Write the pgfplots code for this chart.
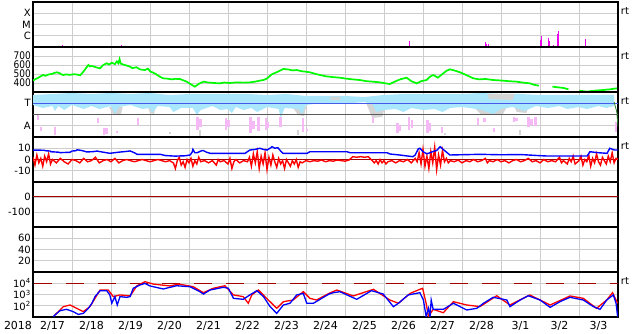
\documentclass[border=0pt]{standalone}
\usepackage{pgfplots}
\pgfplotsset{compat=1.18}
\usepackage{fontspec}
\setmainfont{DejaVu Sans}
\definecolor{gridc}{RGB}{205,205,205}
\definecolor{mag}{RGB}{240,0,240}
\definecolor{grn}{RGB}{0,250,0}
\definecolor{cyanc}{RGB}{170,230,252}
\definecolor{pinkc}{RGB}{245,185,245}
\definecolor{grayc}{RGB}{212,212,212}
\definecolor{tblue}{RGB}{70,90,235}
\definecolor{midgray}{RGB}{90,90,90}
\definecolor{dred}{RGB}{165,0,0}
\definecolor{dgreen}{RGB}{40,130,40}
\pgfplotsset{panel/.style={width=585pt, height=45pt, scale only axis, anchor=south west,
  xmin=0, xmax=15, xtick={1,...,14}, xticklabels={}, xmajorgrids, ymajorgrids,
  grid style={draw=gridc, line width=0.8pt}, axis line style={line width=1.2pt},
  major tick length=0pt, minor tick length=0pt, clip mode=individual,
  yticklabel style={font=\fontsize{10}{10}\selectfont, inner sep=0pt, xshift=-2pt},
  /pgf/number format/assume math mode=true, unbounded coords=jump}}
\begin{document}
\begin{tikzpicture}
\path[use as bounding box] (0,0) rectangle (634pt,334pt);
% panel 1
\begin{axis}[panel, at={(33pt,287pt)}, ymin=0, ymax=45, ytick={11.25,22.5,33.75}, yticklabels={C,M,X}]
\addplot[ycomb, mag, line width=1pt, no marks] coordinates {
(0.75,1.5) (2.27,1.5) (9.65,6) (11.61,4.7) (11.64,3) (11.68,3) (12.92,1.3)
(13.00,7) (13.03,10.7) (13.05,7.3) (13.21,9) (13.24,5.7) (13.34,2.3)
(13.44,13.3) (13.48,15.7) (14.16,8.3)};
\end{axis}
% panel 2
\begin{axis}[panel, at={(33pt,242pt)}, ymin=300, ymax=800, ytick={400,500,600,700},
  yticklabel={\scalebox{0.9}[1.05]{\pgfmathprintnumber{\tick}}}]
\addplot[grn, line width=1.7pt, no marks] coordinates {
(0.00,426) (0.05,440) (0.12,455) (0.18,470) (0.22,480) (0.26,489) (0.32,480) (0.40,495) (0.48,500)
(0.55,512) (0.61,519) (0.68,510) (0.73,495) (0.78,489) (0.85,496) (0.95,490) (1.05,498)
(1.15,492) (1.21,485) (1.28,520) (1.35,560) (1.42,600) (1.46,585) (1.50,590) (1.58,580) (1.65,570)
(1.72,563) (1.80,600) (1.89,619) (1.95,605) (2.02,625) (2.10,610) (2.15,640) (2.19,619)
(2.22,665) (2.25,615) (2.35,600) (2.43,590) (2.49,581) (2.55,565) (2.65,575) (2.75,550)
(2.87,544) (2.95,560) (3.00,530) (3.08,515) (3.15,500) (3.25,470) (3.34,452) (3.45,448)
(3.55,440) (3.65,446) (3.77,444) (3.85,430) (3.94,415) (4.05,385) (4.15,359) (4.25,390)
(4.37,415) (4.50,405) (4.65,400) (4.79,396) (4.90,405) (5.05,400) (5.22,407) (5.40,404)
(5.56,407) (5.70,415) (5.80,425) (5.91,433) (6.00,450) (6.12,496) (6.25,520) (6.42,556)
(6.55,550) (6.65,540) (6.76,544) (6.90,530) (7.00,525) (7.10,519) (7.25,500) (7.36,489)
(7.50,475) (7.70,465) (7.87,459) (8.00,450) (8.20,440) (8.38,433) (8.55,420) (8.70,415)
(8.90,407) (9.05,395) (9.15,389) (9.25,410) (9.37,433) (9.45,445) (9.58,459) (9.70,420)
(9.84,396) (9.95,420) (10.09,433) (10.18,470) (10.26,489) (10.32,475) (10.38,459) (10.50,500)
(10.60,535) (10.69,552) (10.80,540) (10.95,519) (11.10,490) (11.29,452) (11.45,440) (11.60,445)
(11.80,433) (12.00,428) (12.20,420) (12.40,415) (12.55,405) (12.74,396) (12.85,380) (12.97,370)
(13.10,nan)
(13.32,359) (13.50,350) (13.60,345) (13.73,330)
(13.85,nan)
(14.01,315) (14.20,304) (14.40,315) (14.62,322) (14.80,330) (14.97,341)};
\end{axis}
% panel 3
\begin{axis}[panel, at={(33pt,197pt)}, ymin=0, ymax=45, ytick={11.25,33.75}, yticklabels={A,T}]
\addplot[fill=grayc, draw=none] coordinates {(1.95,30) (2.30,30) (2.25,22) (2.05,23)} -- cycle;
\addplot[fill=grayc, draw=none] coordinates {(2.95,30) (3.15,30) (3.10,23) (3.00,24)} -- cycle;
\addplot[fill=grayc, draw=none] coordinates {(6.65,30) (7.00,30) (6.95,21) (6.80,22)} -- cycle;
\addplot[fill=grayc, draw=none] coordinates {(8.55,33) (9.05,33) (8.95,20) (8.70,19)} -- cycle;
\addplot[fill=grayc, draw=none] coordinates {(11.30,30) (12.15,30) (12.05,23) (11.50,22)} -- cycle;
\addplot[fill=grayc, draw=none] coordinates {(12.35,30) (12.70,30) (12.65,24) (12.40,25)} -- cycle;
\addplot[fill=cyanc, draw=none] coordinates {
(0,42) (0.5,43) (1,44) (1.5,43) (2,44) (2.5,43) (3,44) (3.5,42) (4,43) (4.5,43) (5,43)
(5.5,43) (6,42) (6.5,43) (7,41) (7.5,41) (8,41) (8.5,40) (9,42) (9.5,43) (10,43) (10.5,43)
(11,43) (11.5,44) (12,43) (12.5,43) (13,42) (13.5,42) (14,42) (14.5,42) (14.9,42)
(14.9,31) (14.7,29) (14.5,31) (14.2,28) (14.0,30) (13.7,28) (13.5,31) (13.2,29) (12.9,31) (12.6,26) (12.3,30) (12.0,28)
(11.8,23) (11.5,27) (11.2,29) (11.0,30) (10.7,29) (10.5,25) (10.3,28) (10.0,27) (9.7,29) (9.5,25)
(9.3,28) (9.0,27) (8.8,25) (8.7,33) (8.5,35) (8.2,34) (8.0,33) (7.5,34) (7.2,33) (7.0,32) (6.9,23) (6.8,28)
(6.45,29) (6.35,19) (6.3,28) (6.0,30) (5.75,25) (5.6,29) (5.4,27) (5.2,30) (5.1,24) (5.0,28)
(4.8,27) (4.6,31) (4.3,27) (4.2,22) (4.1,29) (3.8,29) (3.6,25) (3.5,30) (3.2,31) (3.05,24) (3.0,29)
(2.8,28) (2.5,32) (2.2,30) (2.1,23) (2.0,31) (1.7,28) (1.5,31) (1.3,28) (1.0,32) (0.8,27) (0.65,31) (0.56,26)
(0.5,31) (0.25,29) (0,32)} -- cycle;
\addplot[fill=grayc, draw=none] coordinates {(11.65,43) (12.35,43) (12.30,37) (11.70,38)} -- cycle;
\addplot[fill=grayc, draw=none] coordinates {(7.60,40) (7.90,40) (7.85,37) (7.65,37)} -- cycle;
\addplot[grayc, line width=2pt, no marks] coordinates {
(3.51,5) (3.51,3) (3.51,nan) (6.80,7) (6.80,2) (6.80,nan) (10.56,4) (10.56,2) (10.56,nan)
(12.48,7) (12.48,2) (12.48,nan) (4.27,7) (4.27,1)};
\addplot[pinkc, line width=2.6pt, no marks] coordinates {
(0.13,22) (0.13,17) (0.13,nan) (0.20,10) (0.20,6) (0.20,nan) (0.56,10) (0.56,2) (0.56,nan)
(1.67,19) (1.67,14) (1.67,nan) (1.82,9) (1.82,2) (1.82,nan) (1.88,9) (1.88,3) (1.88,nan)
(2.15,6) (2.15,4) (2.15,nan) (2.69,19) (2.69,12) (2.69,nan) (4.22,20) (4.22,7) (4.22,nan)
(4.30,18) (4.30,10) (4.30,nan) (4.95,19) (4.95,7) (4.95,nan) (5.02,17) (5.02,10) (5.02,nan)
(5.58,20) (5.58,4) (5.58,nan) (5.66,16) (5.66,8) (5.66,nan) (5.78,20) (5.78,6) (5.78,nan)
(5.97,19) (5.97,7) (5.97,nan) (6.02,15) (6.02,9) (6.02,nan) (6.35,20) (6.35,10) (6.35,nan)
(6.92,19) (6.92,5) (6.92,nan) (7.03,8) (7.03,6) (7.03,nan) (8.72,20) (8.72,14) (8.72,nan)
(9.35,14) (9.35,4) (9.35,nan) (9.40,12) (9.40,6) (9.40,nan) (9.64,20) (9.64,7) (9.64,nan)
(9.72,17) (9.72,9) (9.72,nan) (10.12,17) (10.12,4) (10.12,nan) (10.17,14) (10.17,6) (10.17,nan)
(10.49,10) (10.49,4) (10.49,nan) (11.41,19) (11.41,12) (11.41,nan) (11.58,19) (11.58,15) (11.58,nan)
(11.82,9) (11.82,5) (11.82,nan) (12.33,20) (12.33,15) (12.33,nan) (12.40,19) (12.40,16) (12.40,nan)
(12.70,20) (12.70,10) (12.70,nan) (12.78,18) (12.78,12) (12.78,nan) (12.88,20) (12.88,11) (12.88,nan)
(14.95,15) (14.95,5)};
\addplot[tblue, line width=1pt, no marks] coordinates {(0,33.75) (15,33.75)};
\addplot[midgray, line width=1pt, no marks] coordinates {(0,22.5) (15,22.5)};
\addplot[dgreen, line width=0.8pt, no marks] coordinates {(14.90,35) (14.97,25) (15,10)};
\end{axis}
% panel 4
\begin{axis}[panel, at={(33pt,152pt)}, ymin=-20, ymax=20, ytick={-10,0,10}]
\addplot[dred, line width=1pt, no marks] coordinates {(0,0) (15,0)};
\addplot[red, line width=1.4pt, no marks] coordinates {
(0.0,2) (0.05,-5) (0.1,4) (0.15,-3) (0.2,1) (0.25,-6) (0.3,3) (0.35,-2) (0.4,5) (0.45,-4)
(0.5,0) (0.6,-3) (0.7,1) (0.8,-2) (0.9,-4) (1.0,0) (1.1,-1) (1.2,-3) (1.3,1) (1.4,-2)
(1.5,-1) (1.6,2) (1.7,-3) (1.8,-1) (1.9,0) (2.0,-2) (2.1,1) (2.2,-3) (2.3,-1) (2.4,0)
(2.5,-1) (2.6,-2) (2.7,-1) (2.8,0) (2.9,-1) (3.0,-2) (3.1,-1) (3.2,0) (3.3,-1) (3.4,-2)
(3.5,-1) (3.6,-3) (3.65,-8) (3.7,-1) (3.75,2) (3.8,-5) (3.85,-2) (3.9,-7) (3.95,0) (4.0,-3)
(4.05,1) (4.1,-6) (4.15,-1) (4.2,-4) (4.25,2) (4.3,-2) (4.4,-1) (4.5,-3) (4.6,-1) (4.7,-5)
(4.75,0) (4.8,-2) (4.9,-1) (5.0,-4) (5.05,1) (5.1,-8) (5.15,-2) (5.2,0) (5.3,-3) (5.4,-1)
(5.5,-2) (5.55,2) (5.6,-6) (5.65,5) (5.7,-3) (5.75,7) (5.8,-8) (5.85,3) (5.9,-4) (5.95,6)
(6.0,-9) (6.05,2) (6.1,-5) (6.15,4) (6.2,-2) (6.25,-7) (6.3,1) (6.35,-4) (6.4,-1) (6.45,-8)
(6.5,0) (6.55,-3) (6.6,-6) (6.65,-1) (6.7,-4) (6.75,0) (6.8,-7) (6.85,-2) (6.9,-3) (7.0,-1)
(7.1,-2) (7.2,-1) (7.3,-1.5) (7.4,-0.5) (7.5,-2) (7.6,-1) (7.7,-1.5) (7.8,-0.5) (7.9,-1) (8.0,-1.5)
(8.1,-0.5) (8.2,2.5) (8.3,2) (8.4,2.5) (8.5,2) (8.6,2.5) (8.7,-1) (8.75,-3) (8.8,-1) (8.85,-4)
(8.9,0) (8.95,-3) (9.0,-1) (9.05,-4) (9.1,-2) (9.2,-1) (9.3,-3) (9.4,-1) (9.5,-2) (9.6,0)
(9.7,-3) (9.8,1) (9.85,-2) (9.9,6) (9.95,-4) (10.0,9) (10.05,-6) (10.1,3) (10.15,-8) (10.2,7)
(10.25,-3) (10.3,11) (10.35,-9) (10.4,4) (10.45,-5) (10.5,8) (10.55,-2) (10.6,1) (10.65,-3) (10.7,-1)
(10.8,-2) (10.9,-0.5) (11.0,-3) (11.1,-1) (11.2,-2) (11.3,0) (11.4,-2) (11.5,-1) (11.6,1) (11.65,-3)
(11.7,-1) (11.8,-2) (11.9,0) (12.0,-2) (12.1,-1) (12.2,-3) (12.3,-1) (12.4,0) (12.5,-2) (12.6,-1)
(12.7,1) (12.8,-2) (12.9,-1) (13.0,-3) (13.1,0) (13.2,-2) (13.3,-1) (13.4,-2) (13.5,2) (13.55,-3)
(13.6,-1) (13.7,-4) (13.75,1) (13.8,-2) (13.85,3) (13.9,-4) (14.0,-1) (14.05,3) (14.1,-5) (14.15,0)
(14.2,-2) (14.25,4) (14.3,-6) (14.35,1) (14.4,-3) (14.45,5) (14.5,-2) (14.55,-5) (14.6,2) (14.65,-1)
(14.7,-4) (14.75,3) (14.8,-2) (14.85,6) (14.9,-3) (14.95,1) (15.0,0)};
\addplot[blue, line width=1.4pt, no marks] coordinates {
(0.00,8.4) (0.30,8.2) (0.31,7.8) (0.44,7.5) (0.45,6.9) (0.65,6.5) (0.69,6.1) (0.95,6.4) (1.00,7.5)
(1.10,7.8) (1.13,8.6) (1.25,8.0) (1.38,6.7) (1.55,7.0) (1.64,7.5) (1.80,6.5) (1.97,5.5) (2.20,6.5)
(2.40,7.2) (2.49,7.6) (2.60,6.0) (2.67,4.6) (3.26,4.6) (3.40,3.5) (3.64,3.0) (3.90,3.3) (4.03,4.0)
(4.08,6.5) (4.10,9.0) (4.15,6.0) (4.21,6.0) (4.30,7.5) (4.36,8.0) (4.45,6.5) (4.54,5.5) (5.44,5.5)
(5.50,7.0) (5.56,8.4) (5.70,9.0) (5.82,10.0) (5.90,9.0) (6.00,8.4) (6.10,10.5) (6.13,11.4) (6.20,10.0)
(6.28,10.5) (6.35,7.5) (6.41,5.5) (7.03,5.5) (7.10,6.9) (8.05,6.9) (8.13,6.0) (9.08,6.0) (9.15,4.9)
(9.40,4.0) (9.74,2.5) (9.80,4.0) (9.88,9.5) (9.92,10.0) (10.00,7.0) (10.10,5.0) (10.25,7.0) (10.35,8.0)
(10.44,11.4) (10.50,9.5) (10.62,6.0) (10.69,4.0) (11.46,4.6) (12.00,4.2) (12.50,4.4) (13.00,3.4)
(13.18,3.1) (14.21,3.1) (14.28,6.9) (14.50,6.0) (14.72,5.5) (14.79,10.0) (14.90,8.5) (15.0,8.4)};
\end{axis}
% panel 5
\begin{axis}[panel, at={(33pt,107pt)}, ymin=-200, ymax=100, ytick={-100,0}]
\addplot[dred, line width=1pt, no marks] coordinates {(0,0) (15,0)};
\end{axis}
% panel 6
\begin{axis}[panel, at={(33pt,62pt)}, ymin=0, ymax=80, ytick={20,40,60}]
\end{axis}
% panel 7
\begin{axis}[panel, at={(33pt,17pt)}, ymode=log, ymin=10, ymax=100000,
  ytick={100,1000,10000}, yticklabels={10\textsuperscript{2},10\textsuperscript{3},10\textsuperscript{4}},
  extra x ticks={0.5,1.5,...,14.5},
  extra x tick labels={2/17,2/18,2/19,2/20,2/21,2/22,2/23,2/24,2/25,2/26,2/27,2/28,3/1,3/2,3/3},
  extra x tick style={grid=none, xticklabel style={font=\fontsize{11}{11}\selectfont, anchor=base, yshift=-12.3pt}}]
\addplot[dred, line width=1.3pt, dash pattern=on 18pt off 14pt, no marks] coordinates {(0.02,10000) (15,10000)};
\addplot[red, line width=1.3pt, no marks] coordinates {
(0.56,15) (0.78,83) (0.95,117) (1.12,59) (1.29,30) (1.46,83) (1.59,457) (1.72,2512) (1.93,2512)
(2.06,646) (2.23,912) (2.49,741) (2.66,5754) (2.87,13800) (3.08,8511) (3.51,5754) (3.73,8511)
(4.11,4898) (4.37,1445) (4.62,3548) (4.92,6026) (5.14,912) (5.39,646) (5.52,166) (5.61,912)
(5.78,2512) (5.99,457) (6.25,59) (6.42,229) (6.67,324) (6.93,1778) (7.10,457) (7.27,324)
(7.59,1259) (7.79,2512) (8.21,741) (8.73,2884) (9.15,324) (9.37,166) (9.67,1259) (9.92,2884)
(9.99,3548) (10.08,166) (10.14,11) (10.26,48) (10.52,24) (10.78,229) (11.12,117) (11.46,83)
(11.89,776) (12.23,117) (12.74,912) (13.26,117) (13.77,741) (14.11,457) (14.45,59) (14.71,324)
(14.86,1445) (14.99,166)};
\addplot[blue, line width=1.3pt, no marks] coordinates {
(0.52,11) (0.69,36) (0.86,48) (1.03,30) (1.16,17) (1.29,21) (1.42,59) (1.51,166) (1.59,646)
(1.72,2188) (1.89,2188) (1.97,912) (2.02,166) (2.10,646) (2.16,117) (2.23,646) (2.40,562)
(2.49,646) (2.57,3548) (2.74,6918) (2.87,9772) (3.00,5754) (3.34,3090) (3.68,6026) (4.03,4898)
(4.28,1778) (4.37,1096) (4.54,2512) (4.88,4365) (5.01,3548) (5.14,457) (5.39,372) (5.56,912)
(5.74,2188) (5.91,646) (6.08,83) (6.25,21) (6.42,117) (6.59,166) (6.76,912) (6.93,1259)
(7.02,166) (7.19,166) (7.36,372) (7.59,1096) (7.70,1445) (7.87,1778) (8.30,372) (8.68,2188)
(8.98,1096) (9.24,83) (9.37,166) (9.62,912) (9.92,1445) (10.01,324) (10.08,11) (10.14,59)
(10.18,11) (10.21,324) (10.26,48) (10.52,48) (10.78,166) (11.12,42) (11.38,59) (11.55,166)
(11.80,562) (12.15,324) (12.23,83) (12.49,324) (12.70,776) (13.00,324) (13.26,72) (13.51,229)
(13.77,562) (14.11,324) (14.37,83) (14.54,48) (14.71,324) (14.88,912) (14.95,166) (14.99,11)};
\end{axis}
\node[anchor=base, font=\fontsize{11}{11}\selectfont] at (18pt,4.7pt) {2018};
\foreach \yy in {323,278.5,233.5,188.5,53.5}{
  \node[font=\fontsize{10}{10}\selectfont, inner sep=0pt] at (625pt,\yy pt) {rt};}
\end{tikzpicture}
\end{document}
